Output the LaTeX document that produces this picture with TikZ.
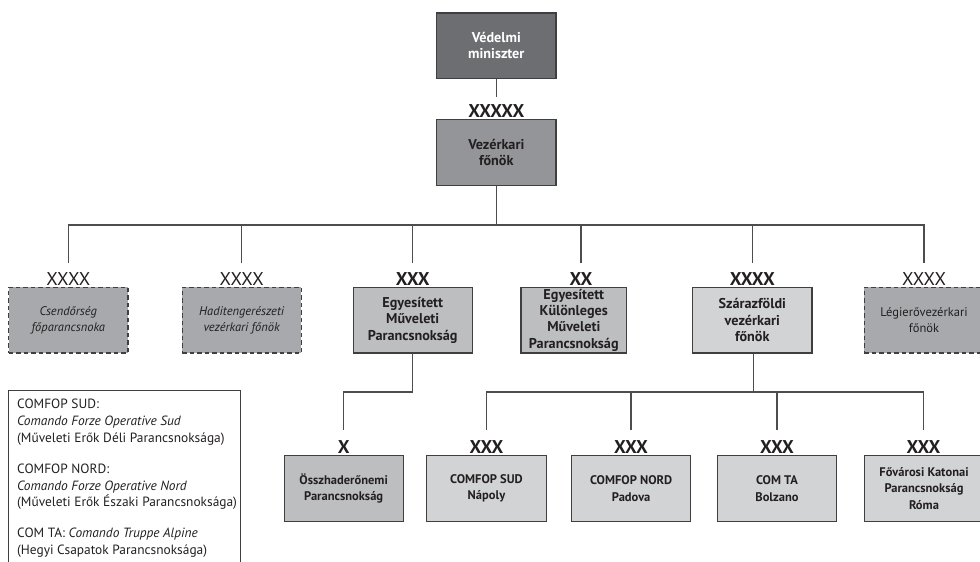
\documentclass[tikz,border=0pt]{standalone}
\usepackage{fontspec}
\setmainfont{PT Sans}
\definecolor{boxline}{HTML}{3F3F41}
\definecolor{conncol}{HTML}{4D4D4F}
\definecolor{txt}{HTML}{231F20}
\definecolor{fdark}{HTML}{6D6E71}
\definecolor{fmid}{HTML}{939598}
\definecolor{fdash}{HTML}{A7A9AC}
\definecolor{flight}{HTML}{BCBEC0}
\definecolor{fpale}{HTML}{D1D3D4}
\begin{document}
\begin{tikzpicture}[x=1pt,y=-1pt,
  unit/.style={draw=boxline, line width=1.1pt, minimum width=119.3pt, minimum height=65.5pt,
    align=center, inner sep=0pt, text=txt, font=\bfseries\fontsize{12.5}{16.3}\selectfont},
  bigunit/.style={unit, font=\bfseries\fontsize{14.2}{16.3}\selectfont},
  dashunit/.style={unit, dash pattern=on 4.5pt off 3pt, fill=fdash,
    font=\fontsize{12.5}{16.3}\selectfont},
  rankb/.style={font=\bfseries\fontsize{18.5}{19}\selectfont, text=txt, inner sep=0pt},
  rankn/.style={font=\fontsize{18.5}{19}\selectfont, text=txt, inner sep=0pt},
  conn/.style={draw=conncol, line width=1.3pt}]
\useasboundingbox (0,0) rectangle (980,562);

% top
\node[bigunit, fill=fdark, text=white] (min) at (496.3,45.7) {Védelmi\\miniszter};
\node[rankb] (rmin) at (496.3,111) {XXXXX};
\node[bigunit, fill=fmid] (vk) at (496.3,152.5) {Vezérkari\\főnök};
\coordinate (tmin) at (496.3,96.7);
\draw[conn] (min.south) -- (tmin);

% level 2
\node[rankn] (r1) at (68.3,279) {XXXX};
\node[dashunit] (csend) at (68.3,320.2) {\itshape Csendőrség\\\itshape főparancsnoka};
\node[rankn] (r2) at (241.7,279) {XXXX};
\node[dashunit] (hadi) at (241.7,320.2) {\itshape Haditengerészeti\\\itshape vezérkari főnök};
\node[rankb] (r3) at (412.7,279) {XXX};
\node[bigunit, fill=flight] (emp) at (412.7,320.2) {Egyesített\\Műveleti\\Parancsnokság};
\node[rankb] (r4) at (581,279) {XX};
\node[bigunit, fill=flight, minimum width=105.7pt] (ekmp) at (573.8,320.2) {Egyesített\\Különleges\\Műveleti\\Parancsnokság};
\node[rankb] (r5) at (752.3,279) {XXXX};
\node[bigunit, fill=fpale] (szf) at (752.3,320.2) {Szárazföldi\\vezérkari\\főnök};
\node[rankn] (r6) at (924,279) {XXXX};
\node[dashunit] (legi) at (924,320.2) {Légierővezérkari\\főnök};

\coordinate (j1) at (496.3,225);
\coordinate (t1) at (68.3,263);
\coordinate (t2) at (241.7,263);
\coordinate (t3) at (412.7,263);
\coordinate (t4) at (581,263);
\coordinate (t5) at (752.3,263);
\coordinate (t6) at (924,263);
\draw[conn] (vk.south) -- (j1);
\draw[conn] (t1) |- (j1) -| (t6);
\draw[conn] (t2) -- (t2 |- j1);
\draw[conn] (t3) -- (t3 |- j1);
\draw[conn] (t4) -- (t4 |- j1);
\draw[conn] (t5) -- (t5 |- j1);

% level 3
\node[rankb] (q1) at (343.7,447.5) {X};
\node[unit, fill=flight] (ossz) at (343.7,488.5) {Összhaderőnemi\\Parancsnokság};
\node[rankb] (q2) at (486.5,447.5) {XXX};
\node[unit, fill=fpale] (sud) at (486.5,488.5) {COMFOP SUD\\Nápoly};
\node[rankb] (q3) at (631,447.5) {XXX};
\node[unit, fill=fpale] (nord) at (631.2,488.5) {COMFOP NORD\\Padova};
\node[rankb] (q4) at (777,447.5) {XXX};
\node[unit, fill=fpale] (comta) at (777,488.5) {COM TA\\Bolzano};
\node[rankb] (q5) at (923.5,447.5) {XXX};
\node[unit, fill=fpale] (fov) at (924,488.5) {Fővárosi Katonai\\Parancsnokság\\Róma};

\coordinate (j2) at (412.7,392);
\coordinate (u1) at (343.7,429.5);
\draw[conn] (emp.south) -- (j2) -| (u1);

\coordinate (j3) at (753.5,392);
\coordinate (u2) at (486.5,429.5);
\coordinate (u3) at (631,429.5);
\coordinate (u4) at (777,429.5);
\coordinate (u5) at (923.5,429.5);
\draw[conn] (szf.south -| j3) -- (j3);
\draw[conn] (u2) |- (j3) -| (u5);
\draw[conn] (u3) -- (u3 |- j3);
\draw[conn] (u4) -- (u4 |- j3);

% legend
\draw[draw=boxline, line width=1pt] (8.3,390.7) coordinate (lgnw) rectangle (240,580);
\node[anchor=north west, inner sep=0pt, align=left, text=txt,
  font=\fontsize{13.4}{16.7}\selectfont] (legend) at (17,399.2)
  {COMFOP SUD:\\
   \itshape Comando Forze Operative Sud\\
   (Műveleti Erők Déli Parancsnoksága)\\[14.3pt]
   COMFOP NORD:\\
   \itshape Comando Forze Operative Nord\\
   (Műveleti Erők Északi Parancsnoksága)\\[14.3pt]
   COM TA: \textit{Comando Truppe Alpine}\\
   (Hegyi Csapatok Parancsnoksága)};
\end{tikzpicture}
\end{document}
